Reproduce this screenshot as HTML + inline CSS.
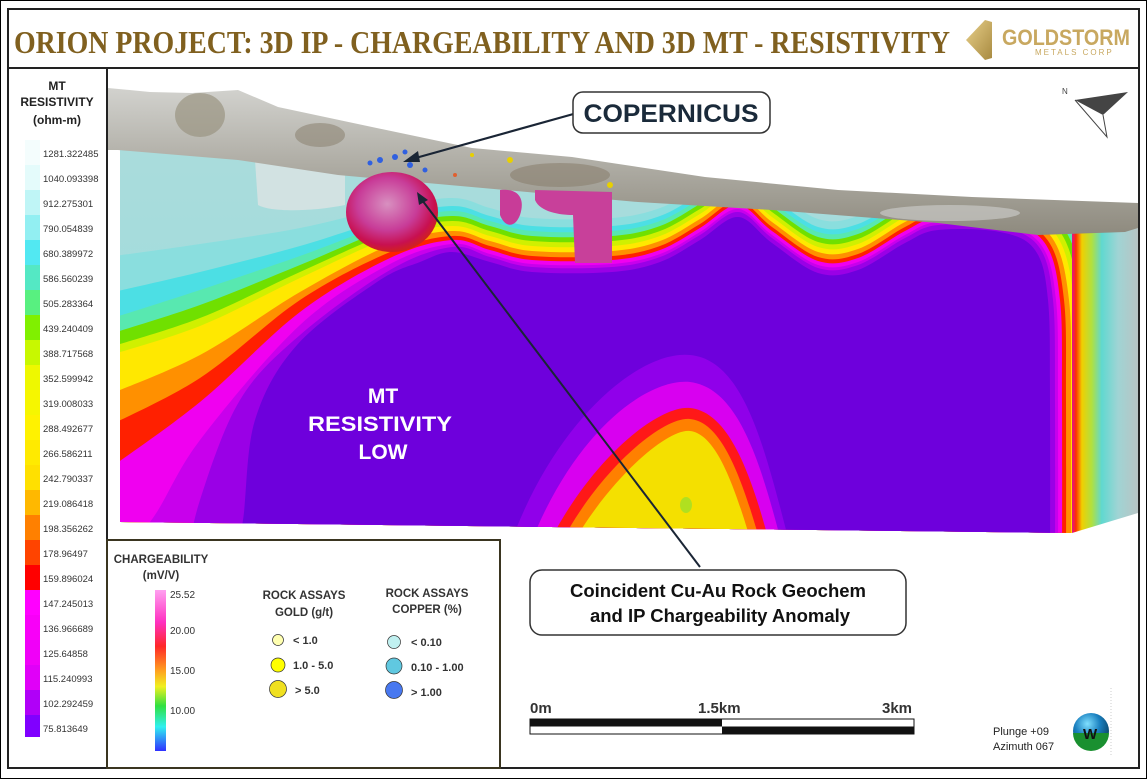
<!DOCTYPE html>
<html><head><meta charset="utf-8"><style>
html,body{margin:0;padding:0;background:#fff}
svg{display:block}
</style></head><body>
<svg id="s" width="1147" height="779" viewBox="0 0 1147 779" xmlns="http://www.w3.org/2000/svg" font-family="Liberation Sans, sans-serif">
<defs>
<clipPath id="front"><polygon points="120,145 238,155 338,170 505,185 638,197 772,205 938,218 1038,230 1072,230 1072,533 120,522"/></clipPath>
<linearGradient id="terr" x1="0" y1="0" x2="0" y2="1">
<stop offset="0" stop-color="#d2d2ce"/><stop offset="0.5" stop-color="#b0aea6"/><stop offset="1" stop-color="#8e8a7e"/></linearGradient>
<linearGradient id="rface" x1="0" y1="0" x2="1" y2="0">
<stop offset="0" stop-color="#e01090"/><stop offset="0.06" stop-color="#ff3000"/><stop offset="0.15" stop-color="#f0d000"/><stop offset="0.3" stop-color="#b0e040"/><stop offset="0.45" stop-color="#60d8d0"/><stop offset="0.7" stop-color="#a0d4d4"/><stop offset="1" stop-color="#b8c4c4"/></linearGradient>
<linearGradient id="bg" x1="0" y1="0" x2="0" y2="1">
<stop offset="0" stop-color="#aadcdc"/><stop offset="1" stop-color="#98dede"/></linearGradient>
<linearGradient id="chg" x1="0" y1="0" x2="0" y2="1">
<stop offset="0" stop-color="#ffa0f0"/><stop offset="0.2" stop-color="#ff30c0"/><stop offset="0.35" stop-color="#ff2828"/><stop offset="0.5" stop-color="#ffa020"/><stop offset="0.6" stop-color="#f0f020"/><stop offset="0.72" stop-color="#30e040"/><stop offset="0.85" stop-color="#30f0f0"/><stop offset="1" stop-color="#3030ff"/></linearGradient>
<radialGradient id="ball" cx="0.45" cy="0.4" r="0.6">
<stop offset="0" stop-color="#d890c0"/><stop offset="0.55" stop-color="#c83c98"/><stop offset="0.85" stop-color="#c81050"/><stop offset="1" stop-color="#d02020"/></radialGradient>
<radialGradient id="globe" cx="0.4" cy="0.3" r="0.7">
<stop offset="0" stop-color="#80e0ff"/><stop offset="0.5" stop-color="#1a80c0"/><stop offset="1" stop-color="#0a4060"/></radialGradient>
<linearGradient id="gold" x1="0" y1="0" x2="1" y2="1">
<stop offset="0" stop-color="#e8d08a"/><stop offset="1" stop-color="#a88a40"/></linearGradient>
</defs>

<rect x="0.5" y="0.5" width="1146" height="778" fill="#fff" stroke="#000"/>

<!-- block -->
<polygon points="120,145 238,155 338,170 505,185 638,197 772,205 938,218 1038,230 1072,230 1072,533 120,522" fill="url(#bg)"/>
<path d="M255,160 L345,165 L345,205 C310,212 270,212 258,205 Z" fill="#d2e2e2" clip-path="url(#front)"/>
<g id="bands" clip-path="url(#front)"></g>
<g clip-path="url(#front)">
<path d="M510,545 C555,420 640,350 690,355 C745,360 765,450 790,545 Z" fill="#9000ea"/>
<path d="M530,545 C575,430 648,378 690,382 C738,388 760,460 782,545 Z" fill="#d800f0"/>
<path d="M548,545 C590,460 658,405 690,408 C728,412 750,470 770,545 Z" fill="#ff1818"/>
<path d="M560,545 C600,468 664,416 690,419 C722,422 742,478 761,545 Z" fill="#ff8000"/>
<path d="M572,545 C610,478 668,428 690,431 C716,434 734,484 752,545 Z" fill="#f4e000"/>
<ellipse cx="686" cy="505" rx="6" ry="8" fill="#b0e020"/>
</g>
<polygon points="1072,230 1138,228 1138,513 1072,533" fill="url(#rface)"/>

<!-- terrain -->
<polygon points="108,88 150,92 192,93 238,90 278,107 372,127 472,148 572,157 705,177 838,190 972,197 1138,203 1138,228 1125,232 1038,235 938,223 772,210 638,202 505,190 338,175 238,160 118,150 108,150" fill="url(#terr)"/>
<ellipse cx="200" cy="115" rx="25" ry="22" fill="#9a9482" opacity="0.7"/>
<ellipse cx="320" cy="135" rx="25" ry="12" fill="#8e8574" opacity="0.6"/>
<ellipse cx="560" cy="175" rx="50" ry="12" fill="#8a8070" opacity="0.6"/>
<ellipse cx="950" cy="213" rx="70" ry="8" fill="#c8c8c4" opacity="0.7"/>

<!-- IP blobs -->
<path d="M500,190 C520,188 525,200 520,215 C515,228 505,228 500,215 Z" fill="#c83c98"/>
<path d="M535,190 L612,192 L612,263 L575,263 L573,215 C560,215 540,212 535,200 Z" fill="#c8409a"/>
<ellipse cx="392" cy="212" rx="46" ry="40" fill="url(#ball)"/>
<g>
<circle cx="380" cy="160" r="3" fill="#3060e0"/><circle cx="395" cy="157" r="3" fill="#3060e0"/><circle cx="410" cy="165" r="3" fill="#3060e0"/><circle cx="405" cy="152" r="2.5" fill="#3060e0"/><circle cx="425" cy="170" r="2.5" fill="#3060e0"/><circle cx="370" cy="163" r="2.5" fill="#3060e0"/>
<circle cx="510" cy="160" r="3" fill="#e8d000"/><circle cx="472" cy="155" r="2" fill="#e8d000"/><circle cx="610" cy="185" r="3" fill="#e8d000"/><circle cx="455" cy="175" r="2" fill="#e06030"/>
</g>

<!-- north arrow -->
<polygon points="1075,100 1128,92 1103,115" fill="#444"/>
<polyline points="1075,100 1107,137 1103,115" fill="none" stroke="#444" stroke-width="1"/>
<text x="1062" y="94" font-size="8" fill="#444">N</text>

<!-- arrows -->
<line x1="577" y1="113" x2="412" y2="159" stroke="#1a2535" stroke-width="2.2"/>
<polygon points="403,162 418,151 420,162" fill="#1a2535"/>
<line x1="700" y1="567" x2="422" y2="200" stroke="#1a2535" stroke-width="2"/>
<polygon points="417,192 428,200 419,205" fill="#1a2535"/>

<!-- callouts -->
<rect x="573" y="92" width="197" height="41" rx="10" fill="#fff" stroke="#333" stroke-width="1.5"/>
<text x="671" y="122" font-size="25" font-weight="bold" text-anchor="middle" fill="#1a2a3a" textLength="175" lengthAdjust="spacingAndGlyphs">COPERNICUS</text>
<text x="383" y="403" font-size="21" font-weight="bold" fill="#fff" text-anchor="middle">MT</text>
<text x="380" y="431" font-size="21" font-weight="bold" fill="#fff" text-anchor="middle" textLength="144" lengthAdjust="spacingAndGlyphs">RESISTIVITY</text>
<text x="383" y="459" font-size="21" font-weight="bold" fill="#fff" text-anchor="middle">LOW</text>

<!-- frames -->
<rect x="8" y="9" width="1131" height="59" fill="none" stroke="#222" stroke-width="2"/>
<rect x="8" y="68" width="99" height="700" fill="none" stroke="#222" stroke-width="2"/>
<rect x="107" y="68" width="1032" height="700" fill="none" stroke="#222" stroke-width="2"/>
<rect x="107" y="540" width="393" height="228" fill="#fff" stroke="#3a3520" stroke-width="2"/>

<!-- title -->
<text x="14" y="53" style="font-family:'Liberation Serif',serif" font-size="32" font-weight="bold" fill="#80601f" textLength="936" lengthAdjust="spacingAndGlyphs">ORION PROJECT: 3D IP - CHARGEABILITY AND 3D MT - RESISTIVITY</text>
<polygon points="985,20 992,22 992,58 985,60 966,40" fill="url(#gold)"/>
<text x="1002" y="45" font-size="22" font-weight="bold" fill="#c8a860" textLength="128" lengthAdjust="spacingAndGlyphs">GOLDSTORM</text>
<text x="1035" y="55" font-size="8" fill="#c8a860" letter-spacing="2">METALS CORP</text>

<!-- left legend -->
<text x="57" y="90" font-size="12" font-weight="bold" fill="#222" text-anchor="middle">MT</text>
<text x="57" y="106" font-size="12" font-weight="bold" fill="#222" text-anchor="middle">RESISTIVITY</text>
<text x="57" y="124" font-size="12" font-weight="bold" fill="#222" text-anchor="middle">(ohm-m)</text>
<g id="rbar"></g>

<!-- chargeability legend -->
<text x="161" y="563" font-size="11.5" font-weight="bold" fill="#333" text-anchor="middle">CHARGEABILITY</text>
<text x="161" y="579" font-size="11.5" font-weight="bold" fill="#333" text-anchor="middle">(mV/V)</text>
<rect x="155" y="590" width="11" height="161" fill="url(#chg)"/>
<g font-size="10" fill="#333">
<text x="170" y="598">25.52</text><text x="170" y="634">20.00</text><text x="170" y="674">15.00</text><text x="170" y="714">10.00</text>
</g>
<g font-size="11.5" font-weight="bold" fill="#333" text-anchor="middle">
<text x="304" y="599">ROCK ASSAYS</text><text x="304" y="616">GOLD (g/t)</text>
<text x="427" y="597">ROCK ASSAYS</text><text x="427" y="613">COPPER (%)</text>
</g>
<g stroke="#333" stroke-width="0.7">
<circle cx="278" cy="640" r="5.5" fill="#ffffb0"/><circle cx="278" cy="665" r="7" fill="#ffff00"/><circle cx="278" cy="689" r="8.5" fill="#f0e020"/>
<circle cx="394" cy="642" r="6.5" fill="#c0f0f0"/><circle cx="394" cy="666" r="8" fill="#60c8e0"/><circle cx="394" cy="690" r="8.5" fill="#4878f0"/>
</g>
<g font-size="11" font-weight="bold" fill="#333">
<text x="293" y="644">&lt; 1.0</text><text x="293" y="669">1.0 - 5.0</text><text x="295" y="694">&gt; 5.0</text>
<text x="411" y="646">&lt; 0.10</text><text x="411" y="671">0.10 - 1.00</text><text x="411" y="696">&gt; 1.00</text>
</g>

<!-- callout 2 -->
<rect x="530" y="570" width="376" height="65" rx="12" fill="#fff" stroke="#333" stroke-width="1.5"/>
<text x="718" y="597" font-size="18.5" font-weight="bold" fill="#111" text-anchor="middle">Coincident Cu-Au Rock Geochem</text>
<text x="720" y="622" font-size="18.5" font-weight="bold" fill="#111" text-anchor="middle">and IP Chargeability Anomaly</text>

<!-- scale bar -->
<g font-size="15" font-weight="bold" fill="#333">
<text x="530" y="713">0m</text><text x="698" y="713">1.5km</text><text x="882" y="713">3km</text>
</g>
<rect x="530" y="719" width="384" height="15" fill="#fff" stroke="#111" stroke-width="1"/>
<rect x="530" y="719" width="192" height="7.5" fill="#111"/>
<rect x="722" y="726.5" width="192" height="7.5" fill="#111"/>

<text x="993" y="735" font-size="11" fill="#222">Plunge +09</text>
<text x="993" y="750" font-size="11" fill="#222">Azimuth 067</text>
<circle cx="1091" cy="731" r="18" fill="url(#globe)"/>
<path d="M1073,733 A18,18 0 0 0 1109,733 Z" fill="#1a9030"/>
<text x="1083" y="739" font-size="15" font-weight="bold" fill="#111">W</text>
<line x1="1111" y1="688" x2="1111" y2="755" stroke="#ccc" stroke-dasharray="1,2"/>
</svg>
<script>
(function(){
var NS="http://www.w3.org/2000/svg";
var T=[[452,252,0,-1],[490,262,0,-1],
[532,272,0,-1],[612,272,0,-1],[660,262,0,-1],[700,240,0,-1],[738,217,0,-1],
[772,243,0,-1],[818,273,0,-1],[858,270,0,-1],[905,243,0,-1],[938,230,0,-1],
[1000,232,0.3,-0.95],[1035,250,0.8,-0.6],[1048,300,1,0],[1050,403,1,0],[1050,600,1,0]];
var B=[
["#8adede",54,[[100,258],[200,244],[300,228],[385,208]]],
["#4cdfe4",46,[[100,295],[200,272],[300,246],[390,218]]],
["#58e8b0",41,[[100,322],[200,290],[300,256],[390,223]]],
["#70e000",36,[[100,337],[200,305],[300,265],[390,228]]],
["#d0f000",31,[[100,350],[200,318],[300,272],[390,233]]],
["#ffe800",26,[[100,358],[200,326],[300,278],[390,238]]],
["#ff9000",21,[[100,398],[200,355],[300,292],[390,245]]],
["#ff2000",16,[[100,430],[200,378],[300,300],[390,252]]],
["#f000f0",12,[[100,475],[200,402],[300,312],[390,258]]],
["#c800ec",8,[[100,570],[150,522],[200,440],[300,325],[390,264]]],
["#9a00e6",5,[[185,570],[200,500],[240,400],[300,335],[390,270]]],
["#6e00dc",0,[[232,570],[243,520],[255,420],[297,345],[377,282],[420,262]]]];
function cr(pts){var d="M"+pts[0][0]+","+pts[0][1];for(var i=0;i<pts.length-1;i++){var p0=pts[i-1]||pts[i],p1=pts[i],p2=pts[i+1],p3=pts[i+2]||p2;
d+=" C"+(p1[0]+(p2[0]-p0[0])/6).toFixed(1)+","+(p1[1]+(p2[1]-p0[1])/6).toFixed(1)+" "+(p2[0]-(p3[0]-p1[0])/6).toFixed(1)+","+(p2[1]-(p3[1]-p1[1])/6).toFixed(1)+" "+p2[0].toFixed(1)+","+p2[1].toFixed(1);}
return d;}
var g=document.getElementById("bands");
B.forEach(function(b){var tp=T.map(function(p){var n=Math.hypot(p[2],p[3]);return [p[0]+p[2]/n*b[1],p[1]+p[3]/n*b[1]];});
var pts=b[2].concat(tp);
var d=cr(pts)+" L"+pts[pts.length-1][0]+",650 L"+pts[0][0]+",650 Z";var e=document.createElementNS(NS,"path");e.setAttribute("d",d);e.setAttribute("fill",b[0]);g.appendChild(e);});
var labels=["1281.322485","1040.093398","912.275301","790.054839","680.389972","586.560239","505.283364","439.240409","388.717568","352.599942","319.008033","288.492677","266.586211","242.790337","219.086418","198.356262","178.96497","159.896024","147.245013","136.966689","125.64858","115.240993","102.292459","75.813649"];
var cols=["#f4fdfd","#e4fbfb","#bff5f6","#92eff2","#52e8f2","#54e8c4","#58f080","#80f000","#c8f800","#eef800","#f6f600","#fff200","#ffea00","#ffe000","#ffb800","#ff8000","#ff4400","#ff0000","#ff00ff","#f800f8","#f000f8","#e000f8","#b000f8","#8000ff"];
var r=document.getElementById("rbar");
for(var i=0;i<24;i++){var y=140+i*25;var re=document.createElementNS(NS,"rect");re.setAttribute("x",25);re.setAttribute("y",y);re.setAttribute("width",15);re.setAttribute("height",i==23?22:25.5);re.setAttribute("fill",cols[i]);r.appendChild(re);
var t=document.createElementNS(NS,"text");t.setAttribute("x",43);t.setAttribute("y",157+i*25);t.setAttribute("font-size","9.5");t.setAttribute("fill","#333");t.textContent=labels[i];r.appendChild(t);}
})();
</script>
</body></html>
